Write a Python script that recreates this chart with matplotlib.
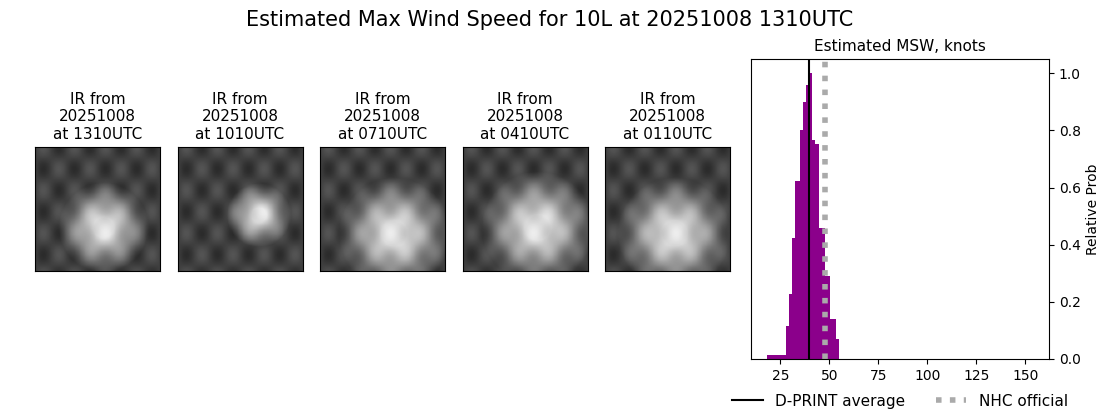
import numpy as np
import matplotlib
matplotlib.use("Agg")
import matplotlib.pyplot as plt

W, H = 1100, 409
edges = [18, 27.9, 29.6, 31.1, 32.6, 35.2, 36.7, 38.2, 39.2, 41.2, 42.7, 44.8, 47.8, 50.3, 53.4, 54.9]
probs = [0.014, 0.115, 0.227, 0.424, 0.622, 0.80, 0.90, 0.958, 1.0, 0.766, 0.753, 0.46, 0.29, 0.14, 0.07]
dprint_avg = 39.8
nhc_official = 47.5
times = ["1310UTC", "1010UTC", "0710UTC", "0410UTC", "0110UTC"]
date = "20251008"
blobs = [(0.55, 0.65, 0.28), (0.65, 0.55, 0.2), (0.6, 0.7, 0.35), (0.6, 0.65, 0.35), (0.55, 0.7, 0.35)]

fig = plt.figure(figsize=(W/100, H/100), dpi=100)
fig.suptitle("Estimated Max Wind Speed for 10L at 20251008 1310UTC", fontsize=15, y=0.975)

yy, xx = np.mgrid[0:1:100j, 0:1:100j]
for i, (t, (cx, cy, r)) in enumerate(zip(times, blobs)):
    x0 = 35 + i*142.5
    ax = fig.add_axes([x0/W, 1-271/H, 125/W, 124/H])
    d = np.sqrt((xx-cx)**2 + (yy-cy)**2)
    img = 0.25 + 0.6*np.clip(1.3 - d/r, 0, 1) + 0.08*np.sin(xx*25)*np.cos(yy*18)
    ax.imshow(img, cmap="gray", vmin=0, vmax=1, aspect="auto")
    ax.set_xticks([]); ax.set_yticks([])
    ax.set_title(f"IR from\n{date}\nat {t}", fontsize=11)

ax = fig.add_axes([751/W, 1-359/H, 298/W, 300/H])
ax.bar(edges[:-1], probs, width=np.diff(edges), align="edge", color="#8b008b")
ax.axvline(dprint_avg, color="black", lw=1.5, label="D-PRINT average")
ax.axvline(nhc_official, color="#aaaaaa", lw=4, ls=(0, (1, 1.5)), label="NHC official")
ax.set_xlim(10, 162)
ax.set_ylim(0, 1.05)
ax.set_xticks([25, 50, 75, 100, 125, 150])
ax.yaxis.tick_right(); ax.yaxis.set_label_position("right")
ax.set_ylabel("Relative Prob")
ax.set_title("Estimated MSW, knots", fontsize=11)
ax.legend(loc="upper center", bbox_to_anchor=(0.5, -0.07), ncol=2, frameon=False, fontsize=11)
fig.savefig("out.png", dpi=100)
